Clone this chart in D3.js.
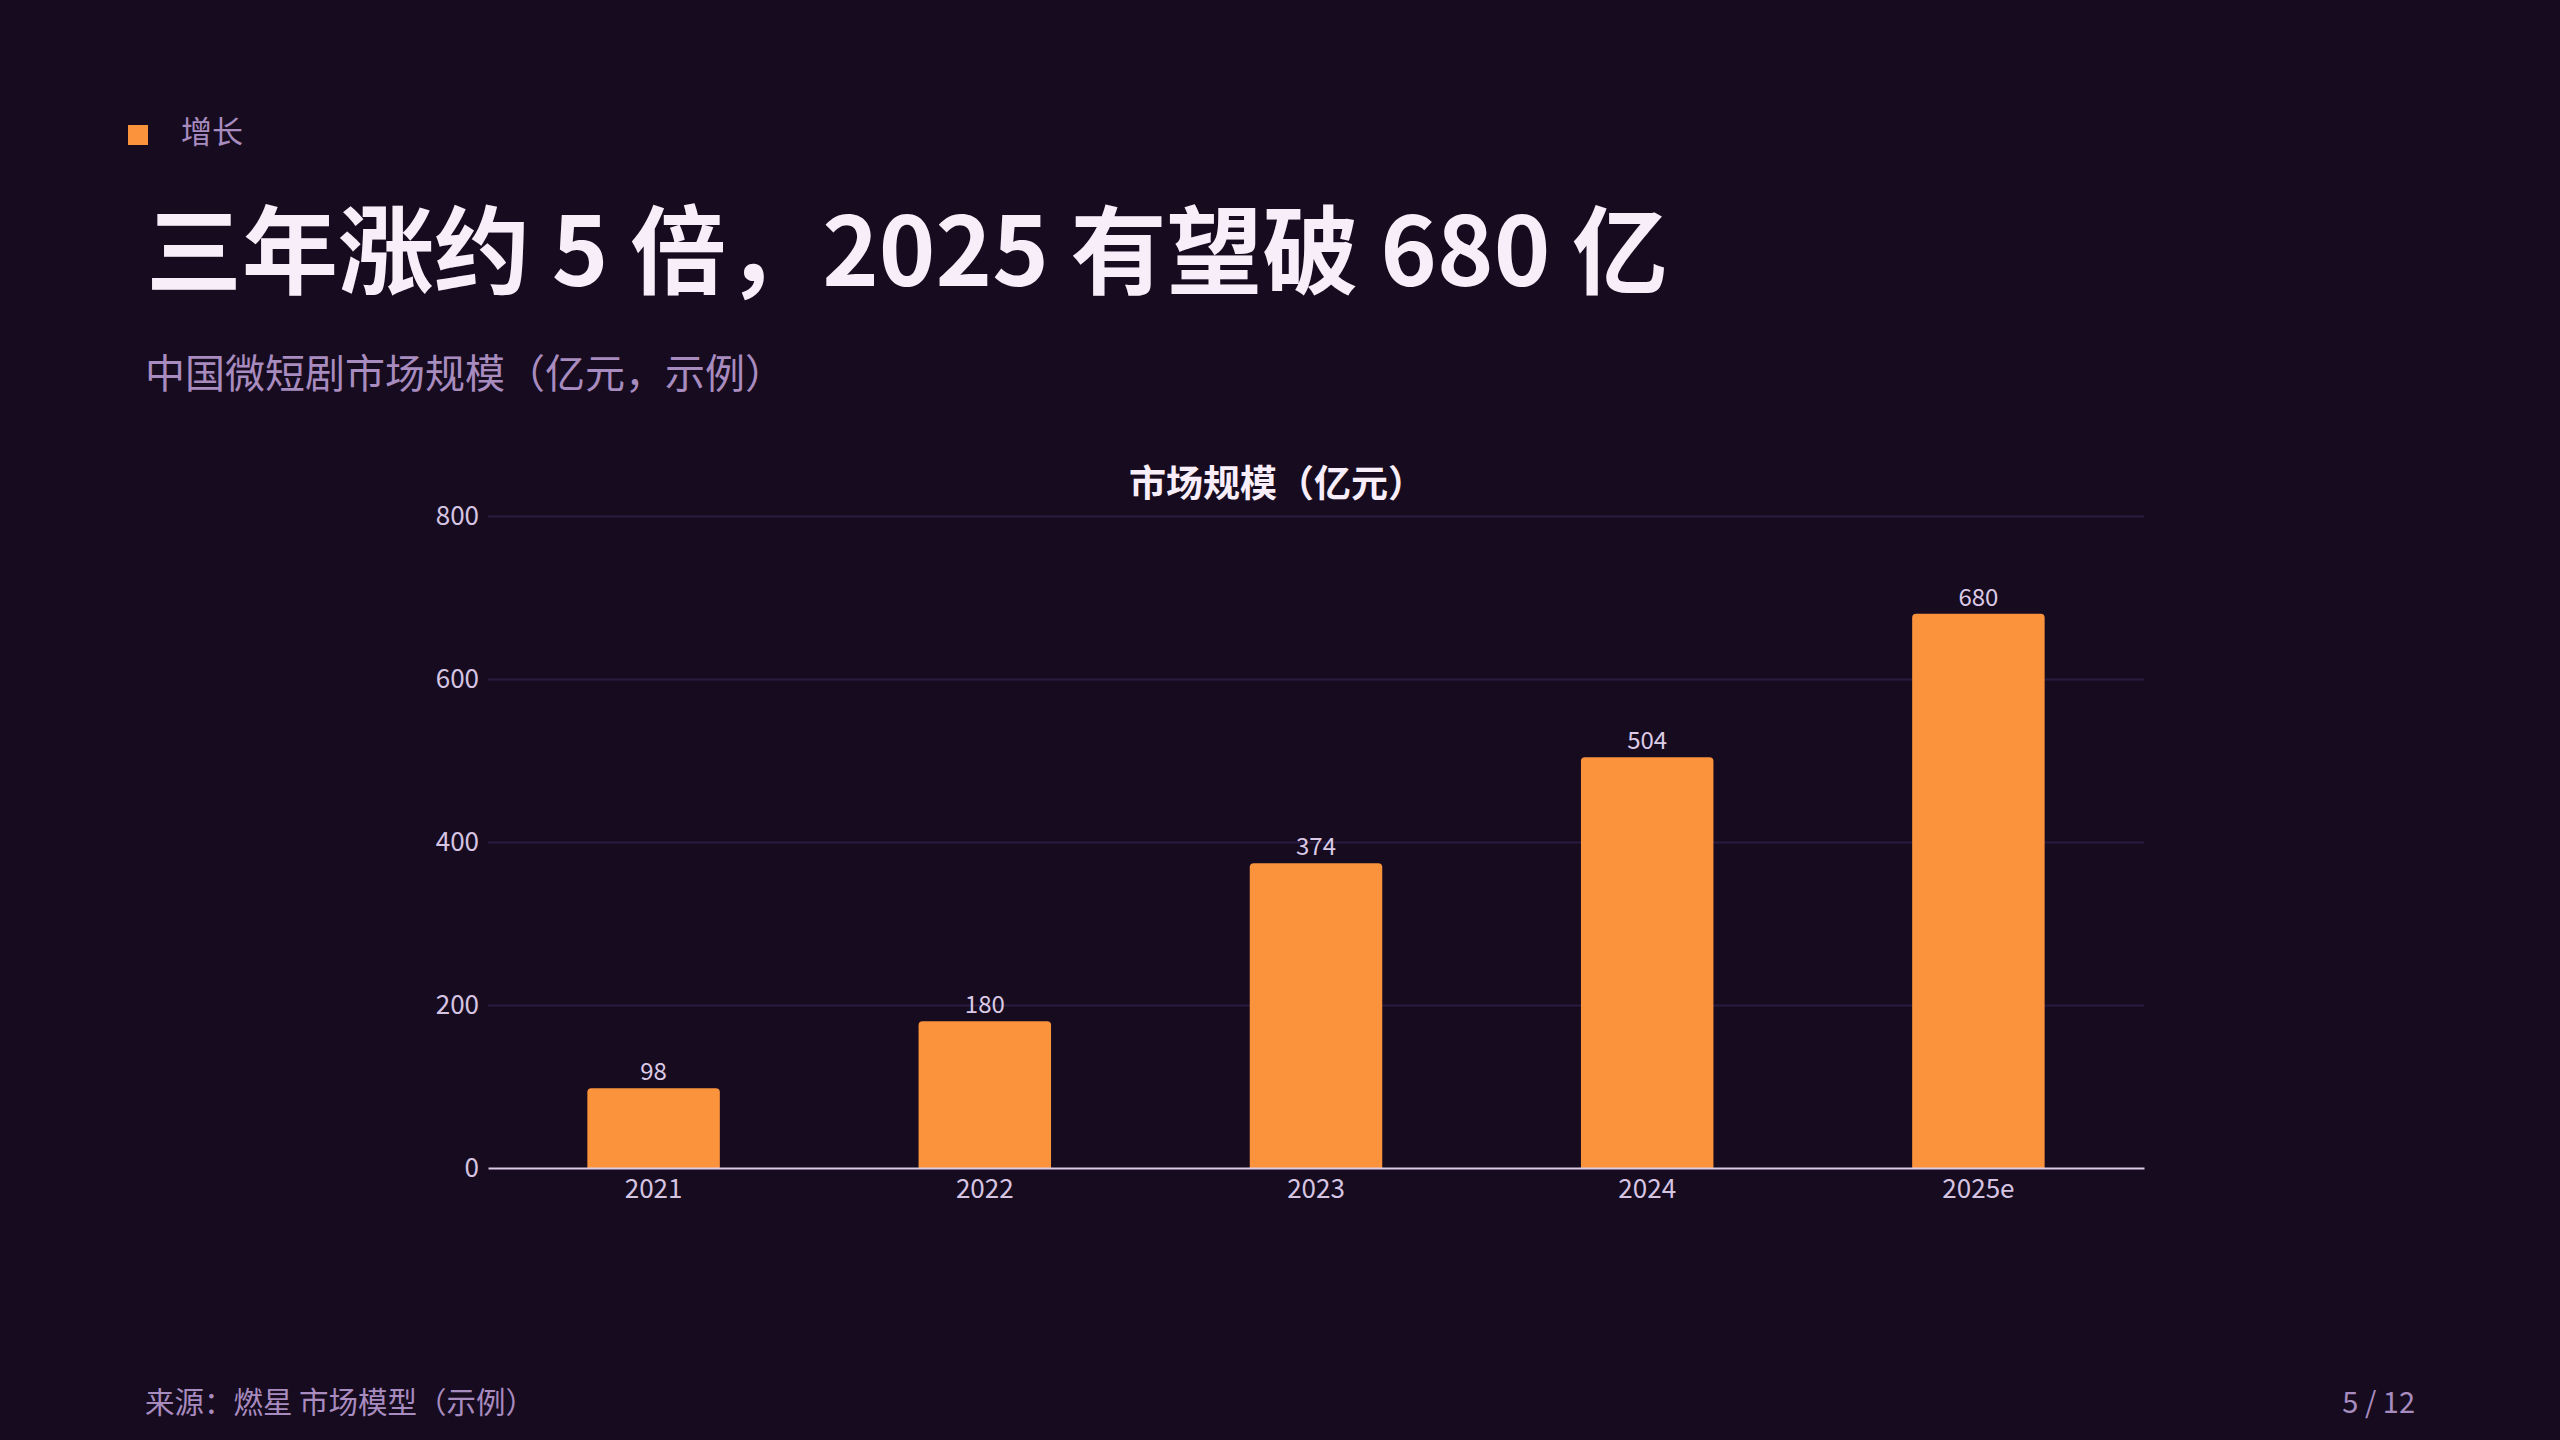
<!DOCTYPE html>
<html>
<head>
<meta charset="utf-8">
<script src="https://cdn.jsdelivr.net/npm/d3@7"></script>
<style>
  html, body { margin: 0; padding: 0; background: #170c1f; }
  svg { display: block; }
  text { font-family: "Noto Sans CJK SC", "Noto Sans", sans-serif; }
</style>
</head>
<body>
<svg id="chart" width="2560" height="1440"></svg>
<script>
const categories = ["2021", "2022", "2023", "2024", "2025e"];
const values = [98, 180, 374, 504, 680];
const yTicks = [0, 200, 400, 600, 800];

const kicker = "增长";
const title = "三年涨约 5 倍，2025 有望破 680 亿";
const subtitle = "中国微短剧市场规模（亿元，示例）";
const chartTitle = "市场规模（亿元）";
const source = "来源：燃星 市场模型（示例）";
const pageNo = "5 / 12";

const svg = d3.select("#chart");
svg.append("rect").attr("width", 2560).attr("height", 1440).attr("fill", "#170c1f");

// header
svg.append("rect").attr("x", 128).attr("y", 125).attr("width", 20).attr("height", 20).attr("fill", "#fb923c");
svg.append("text").attr("x", 181).attr("y", 143).attr("font-size", 31).attr("fill", "#a88bbf").text(kicker);
svg.append("text").attr("x", 146).attr("y", 286).attr("font-size", 96).attr("font-weight", 700).attr("fill", "#f8eefa").text(title);
svg.append("text").attr("x", 145).attr("y", 388).attr("font-size", 40).attr("fill", "#a88bbf").text(subtitle);

// footer
svg.append("text").attr("x", 145).attr("y", 1413).attr("font-size", 29.5).attr("fill", "#a88bbf").text(source);
svg.append("text").attr("x", 2415).attr("y", 1413).attr("font-size", 29).attr("text-anchor", "end").attr("fill", "#a88bbf").text(pageNo);

// chart
const x0 = 488, x1 = 2144, yTop = 516, yBottom = 1168;
const x = d3.scaleBand().domain(categories).range([x0, x1]).paddingInner(0.6).paddingOuter(0.3);
const y = d3.scaleLinear().domain([0, 800]).range([yBottom, yTop]);

svg.append("text").attr("x", 1277).attr("y", 497).attr("font-size", 37).attr("font-weight", 700)
  .attr("text-anchor", "middle").attr("fill", "#f8eefa").text(chartTitle);

// grid
const yAxis = d3.axisLeft(y).tickValues(yTicks).tickSize(-(x1 - x0)).tickPadding(9);
const gy = svg.append("g").attr("transform", `translate(${x0},0)`).call(yAxis);
gy.select(".domain").remove();
gy.selectAll(".tick line").attr("stroke", "#2a1a40").attr("stroke-width", 2);
gy.selectAll(".tick text").attr("font-size", 26).attr("fill", "#d6c4e3")
  .attr("font-family", '"Noto Sans CJK SC", "Noto Sans", sans-serif');
gy.selectAll(".tick").filter(d => d === 0).select("line").remove();

// bars
const r = 4;
svg.append("g").selectAll("path").data(values).join("path")
  .attr("fill", "#fb923c")
  .attr("d", (v, i) => {
    const bx = x(categories[i]), bw = x.bandwidth(), by = y(v), bb = y(0);
    return `M${bx},${bb} L${bx},${by + r} Q${bx},${by} ${bx + r},${by} L${bx + bw - r},${by} Q${bx + bw},${by} ${bx + bw},${by + r} L${bx + bw},${bb} Z`;
  });

// value labels
svg.append("g").selectAll("text").data(values).join("text")
  .attr("x", (v, i) => x(categories[i]) + x.bandwidth() / 2)
  .attr("y", v => y(v) - 8)
  .attr("text-anchor", "middle").attr("font-size", 24).attr("fill", "#dccae6")
  .text(v => v);

// x axis
const xAxis = d3.axisBottom(x).tickSize(0).tickPadding(12);
const gx = svg.append("g").attr("transform", `translate(0,${yBottom})`).call(xAxis);
gx.select(".domain").attr("stroke", "#dccbe6").attr("stroke-width", 2);
gx.selectAll(".tick text").attr("font-size", 26).attr("fill", "#d6c4e3")
  .attr("font-family", '"Noto Sans CJK SC", "Noto Sans", sans-serif');
</script>
</body>
</html>
